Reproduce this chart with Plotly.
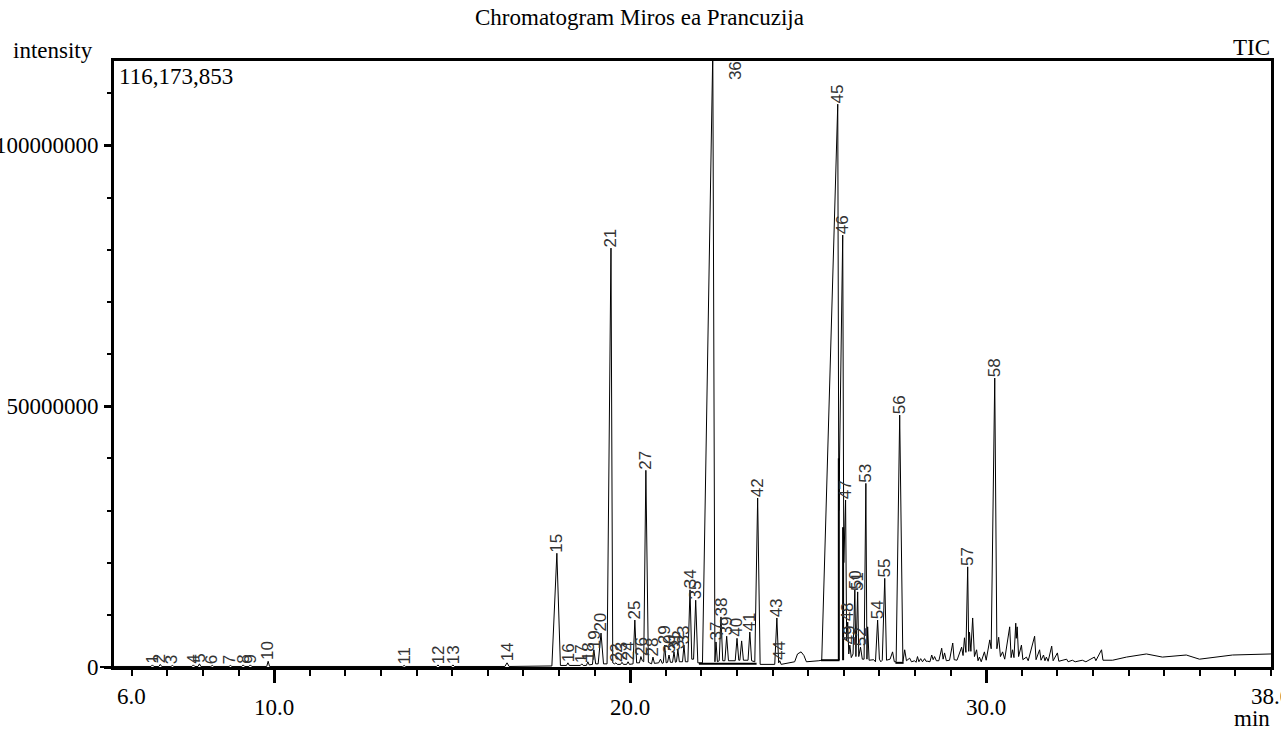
import plotly.graph_objects as go

# ---------------- data ----------------
# TIC trace vertices: retention time (min) and intensity (millions of counts)
tic_time = [
    5.50,
    6.54, 6.58, 6.62, 6.76, 6.80, 6.84, 7.10, 7.14, 7.18,
    7.69, 7.73, 7.77, 7.86, 7.90, 7.94, 8.22, 8.26, 8.30,
    8.73, 8.77, 8.81, 9.09, 9.13, 9.17, 9.29, 9.33, 9.37,
    9.79, 9.83, 9.87, 13.61, 13.65, 13.69, 14.56, 14.60, 14.64,
    14.98, 15.02, 15.06, 16.48, 16.54, 16.60,
    17.80, 17.94, 18.04, 18.21, 18.25, 18.29, 18.60, 18.64, 18.68,
    18.77, 18.81, 18.85, 18.94, 18.98, 19.03, 19.10, 19.18, 19.25,
    19.35, 19.46, 19.51, 19.56, 19.60, 19.64, 19.73, 19.77, 19.81,
    19.90, 19.94, 19.98, 20.08, 20.13, 20.18, 20.26, 20.30, 20.34,
    20.38, 20.44, 20.51, 20.60, 20.64, 20.68, 20.80, 20.85, 20.90,
    20.93, 20.97, 21.01, 21.05, 21.09, 21.13, 21.19, 21.23, 21.27,
    21.30, 21.34, 21.38, 21.47, 21.51, 21.55, 21.62, 21.68, 21.73,
    21.78, 21.84, 21.90, 22.03, 22.32, 22.36, 22.38, 22.41, 22.45,
    22.50, 22.55, 22.60, 22.66, 22.71, 22.76, 22.95, 23.00, 23.05,
    23.08, 23.13, 23.18, 23.31, 23.36, 23.41, 23.50, 23.58, 23.65,
    24.06, 24.12, 24.17, 24.20, 24.24,
    24.62, 24.70, 24.80, 24.88, 24.95, 25.30,
    25.38, 25.83, 25.86, 25.97, 26.00, 26.05, 26.08, 26.11, 26.14,
    26.17, 26.21, 26.26, 26.31, 26.34, 26.39, 26.42, 26.47, 26.52,
    26.57, 26.62, 26.65, 26.67, 26.71, 26.84, 26.89, 26.95, 27.00,
    27.04, 27.08, 27.15, 27.20, 27.30, 27.37, 27.42, 27.47, 27.57,
    27.66, 27.71, 27.76, 27.85, 27.90, 27.99, 28.03, 28.07, 28.11,
    28.16, 28.21, 28.27, 28.31, 28.36, 28.42, 28.47, 28.51, 28.55,
    28.60, 28.67, 28.75, 28.79, 28.83, 28.88, 28.97, 29.06, 29.10,
    29.18, 29.31, 29.35, 29.39, 29.43, 29.48, 29.51, 29.53, 29.57,
    29.62, 29.67, 29.73, 29.77, 29.81, 29.86, 29.95, 30.00, 30.10,
    30.14, 30.24, 30.30, 30.35, 30.40, 30.46, 30.52, 30.66, 30.70,
    30.74, 30.78, 30.83, 30.845, 30.87, 30.91, 30.99, 31.03, 31.13,
    31.18, 31.36, 31.40, 31.50, 31.54, 31.61, 31.65, 31.69, 31.74,
    31.84, 31.88, 32.00, 32.04, 32.26, 32.30, 32.42, 32.50, 32.70,
    32.80, 33.04, 33.08, 33.24, 33.28, 33.55, 33.94, 34.50, 34.95,
    35.62, 35.99, 36.92, 38.00,
]
tic_mcounts = [
    0.10,
    0.10, 0.40, 0.10, 0.10, 0.50, 0.10, 0.10, 0.30, 0.10,
    0.10, 0.40, 0.10, 0.10, 0.60, 0.10, 0.10, 0.30, 0.10,
    0.10, 0.30, 0.10, 0.10, 0.40, 0.10, 0.10, 0.40, 0.10,
    0.10, 1.10, 0.10, 0.10, 0.30, 0.10, 0.10, 0.40, 0.10,
    0.10, 0.40, 0.10, 0.10, 0.80, 0.10,
    0.20, 21.80, 0.30, 0.30, 0.80, 0.30, 0.30, 0.60, 0.30,
    0.30, 1.00, 0.40, 0.50, 3.30, 0.60, 0.60, 6.50, 0.60,
    0.60, 80.30, 0.80, 0.60, 0.80, 0.50, 0.50, 0.90, 0.50,
    0.50, 1.00, 0.50, 0.60, 9.00, 0.80, 0.80, 2.00, 1.20,
    1.00, 37.70, 0.90, 0.60, 1.90, 0.70, 0.80, 1.50, 0.70,
    0.80, 4.20, 0.80, 0.90, 2.30, 0.90, 0.90, 2.90, 0.90,
    1.00, 3.30, 1.00, 1.00, 4.20, 1.00, 1.00, 14.80, 1.50,
    1.50, 12.80, 0.80, 0.80, 118.00, 1.00, 1.00, 4.80, 1.00,
    1.20, 9.60, 1.20, 1.20, 5.90, 1.20, 1.20, 5.50, 1.30,
    1.30, 5.00, 1.30, 1.30, 6.70, 1.20, 1.00, 32.40, 0.50,
    0.50, 9.40, 0.80, 1.20, 0.50,
    1.00, 2.50, 2.90, 2.20, 1.00, 1.20,
    1.30, 107.90, 30.00, 82.80, 20.00, 32.00, 5.00, 8.60, 2.50,
    4.20, 1.80, 2.50, 14.80, 2.00, 14.40, 2.00, 3.80, 1.50,
    1.50, 35.20, 1.50, 7.70, 1.30, 1.40, 1.00, 9.00, 1.50,
    1.00, 1.30, 17.00, 1.30, 1.50, 2.90, 1.00, 1.00, 48.30,
    1.00, 3.30, 1.20, 1.70, 1.00, 1.20, 0.90, 2.00, 1.00,
    1.60, 1.00, 1.60, 1.10, 1.10, 1.00, 2.30, 1.40, 2.00,
    1.20, 1.20, 3.60, 1.50, 2.70, 1.20, 1.30, 4.60, 1.40,
    1.30, 3.80, 2.20, 5.60, 2.80, 19.20, 3.00, 6.70, 3.00,
    9.40, 2.00, 3.30, 1.20, 1.90, 1.00, 2.90, 1.30, 5.20,
    3.50, 55.40, 3.50, 5.70, 2.00, 2.90, 1.50, 7.70, 1.80,
    3.30, 1.80, 8.40, 5.50, 7.70, 2.00, 4.20, 1.40, 1.90,
    1.20, 5.90, 1.40, 3.30, 1.30, 2.30, 1.20, 1.90, 1.10,
    4.00, 1.20, 2.70, 1.10, 1.50, 1.00, 1.30, 1.00, 1.30,
    1.00, 1.90, 1.20, 3.30, 1.30, 1.30, 1.90, 2.50, 1.90,
    2.30, 1.50, 2.30, 2.50,
]

# integration baselines (start min, end min, level in millions)
base_start = [21.93, 25.36, 27.45]
base_end = [23.55, 25.88, 27.68]
base_level = [0.6, 1.3, 0.8]

# peak drop lines (time, top level in millions)
drop_time = [25.86, 25.98]
drop_top = [40.0, 26.8]

# labelled peaks
peak_ids = [str(i) for i in range(1, 59)]
peak_times = [
    6.58, 6.80, 7.14, 7.73, 7.90, 8.26, 8.77, 9.13, 9.33, 9.83,
    13.65, 14.60, 15.02, 16.54, 17.94, 18.25, 18.64, 18.81, 18.98, 19.18,
    19.46, 19.60, 19.77, 19.94, 20.13, 20.30, 20.44, 20.64, 20.97, 21.09,
    21.23, 21.34, 21.51, 21.68, 21.84, 22.94, 22.41, 22.55, 22.71, 23.00,
    23.36, 23.58, 24.12, 24.20, 25.83, 25.97, 26.05, 26.11, 26.17, 26.31,
    26.39, 26.47, 26.62, 26.95, 27.15, 27.57, 29.48, 30.24,
]
peak_heights = [
    0.40, 0.50, 0.30, 0.40, 0.60, 0.30, 0.30, 0.40, 0.40, 1.10,
    0.30, 0.40, 0.40, 0.80, 21.80, 0.80, 0.60, 1.00, 3.30, 6.50,
    80.30, 0.80, 0.90, 1.00, 9.00, 2.00, 37.70, 1.90, 4.20, 2.30,
    2.90, 3.30, 4.20, 14.80, 12.80, 114.4, 4.80, 9.60, 5.90, 5.50,
    6.70, 32.40, 9.40, 1.20, 107.90, 82.80, 32.00, 8.60, 4.20, 14.80,
    14.40, 3.80, 35.20, 9.00, 17.00, 48.30, 19.20, 55.40,
]

y_max = 116173853
x_range = [5.5, 38.0]
x_major = [10, 20, 30]
x_major_text = ["10.0", "20.0", "30.0"]
y_major = [0, 50000000, 100000000]
y_major_text = ["0", "50000000", "100000000"]

SERIF = "Liberation Serif, Times New Roman, serif"
SANS = "Liberation Sans, Arial, sans-serif"
M = 1e6

fig = go.Figure()

fig.add_trace(go.Scatter(
    x=tic_time, y=[v * M for v in tic_mcounts], mode="lines",
    line=dict(color="black", width=1), hoverinfo="skip", showlegend=False,
))

bx, by = [], []
for s, e, lv in zip(base_start, base_end, base_level):
    bx += [s, e, None]
    by += [lv * M, lv * M, None]
for t, top in zip(drop_time, drop_top):
    bx += [t, t, None]
    by += [1.3 * M, top * M, None]
fig.add_trace(go.Scatter(
    x=bx, y=by, mode="lines", line=dict(color="black", width=2),
    hoverinfo="skip", showlegend=False,
))

annotations = []
for pid, t, h in zip(peak_ids, peak_times, peak_heights):
    annotations.append(dict(
        x=t, y=h * M, xref="x", yref="y", text=pid, showarrow=False,
        textangle=-90, xanchor="center",
        yanchor="middle" if pid == "36" else "bottom",
        borderpad=0,
        font=dict(family=SANS, size=17, color="#333333")))

W_PLOT = 1157.0
H_PLOT = 606.0

def px_x(px):
    return (px - 114) / W_PLOT

def px_y(py):
    return (667 - py) / H_PLOT

text_font = dict(family=SERIF, size=23, color="black")
annotations += [
    dict(text="Chromatogram Miros ea Prancuzija", xref="paper", yref="paper",
         x=px_x(639), y=px_y(17), xanchor="center", yanchor="middle",
         showarrow=False, font=text_font),
    dict(text="intensity", xref="paper", yref="paper", x=px_x(11), y=px_y(50),
         xanchor="left", yanchor="middle", showarrow=False, font=text_font),
    dict(text="TIC", xref="paper", yref="paper", x=px_x(1272), y=px_y(48),
         xanchor="right", yanchor="middle", showarrow=False, font=text_font),
    dict(text="116,173,853", xref="paper", yref="paper", x=px_x(117), y=px_y(77),
         xanchor="left", yanchor="middle", showarrow=False, font=text_font),
    dict(text="6.0", xref="x", yref="paper", x=6.0, y=px_y(696),
         xanchor="center", yanchor="middle", showarrow=False, font=text_font),
    dict(text="38.0", xref="x", yref="paper", x=38.0, y=px_y(696),
         xanchor="center", yanchor="middle", showarrow=False, font=text_font),
    dict(text="min", xref="paper", yref="paper", x=px_x(1272), y=px_y(718),
         xanchor="right", yanchor="middle", showarrow=False, font=text_font),
]

fig.update_layout(
    width=1281, height=729,
    margin=dict(l=114, r=10, t=61, b=62),
    paper_bgcolor="white", plot_bgcolor="white",
    template="none",
    showlegend=False,
    annotations=annotations,
    shapes=[dict(type="line", xref="paper", yref="paper",
                 x0=px_x(100), x1=0, y0=0, y1=0,
                 line=dict(color="black", width=2))],
)

fig.update_xaxes(
    range=x_range, showline=True, linecolor="black", linewidth=3, mirror=True,
    showgrid=False, zeroline=False,
    tickmode="array", tickvals=x_major, ticktext=x_major_text,
    ticks="outside", ticklen=13, tickwidth=3, tickcolor="black",
    ticklabelstandoff=4,
    tickfont=text_font,
    minor=dict(ticks="outside", tickmode="linear", tick0=0, dtick=1,
               ticklen=6, tickwidth=2, tickcolor="black", showgrid=False),
    automargin=False,
)
fig.update_yaxes(
    range=[0, y_max], showline=True, linecolor="black", linewidth=3, mirror=True,
    showgrid=False, zeroline=False,
    tickmode="array", tickvals=y_major, ticktext=y_major_text,
    ticks="outside", ticklen=7, tickwidth=3, tickcolor="black",
    ticklabelstandoff=1,
    tickfont=text_font,
    minor=dict(ticks="outside", tickmode="linear", tick0=0, dtick=10000000,
               ticklen=4, tickwidth=2, tickcolor="black", showgrid=False),
    automargin=False,
)

fig.write_html(
    "out.html",
    config={"displayModeBar": False},
    post_script="document.body.style.margin='0px';document.body.style.overflow='hidden';",
)
